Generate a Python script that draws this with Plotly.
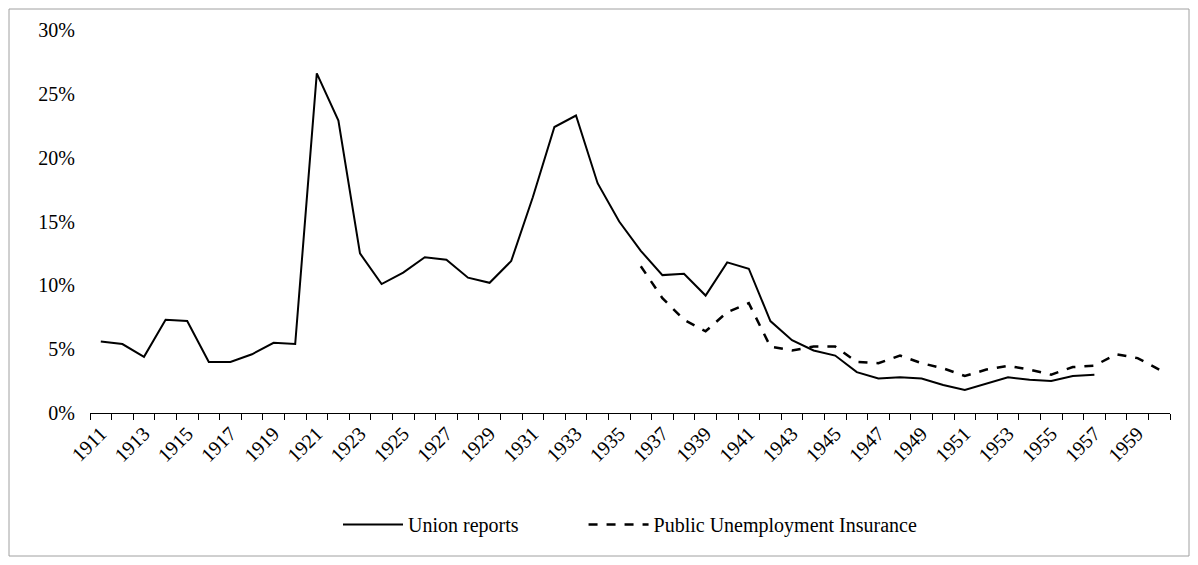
import plotly.graph_objects as go

years = list(range(1911, 1961))
union_years = list(range(1911, 1958))
union = [5.6, 5.4, 4.4, 7.3, 7.2, 4.0, 4.0, 4.6, 5.5, 5.4,
         26.6, 22.9, 12.5, 10.1, 11.0, 12.2, 12.0, 10.6, 10.2, 11.9,
         16.9, 22.4, 23.3, 18.0, 15.0, 12.7, 10.8, 10.9, 9.2, 11.8,
         11.3, 7.2, 5.7, 4.9, 4.5, 3.2, 2.7, 2.8, 2.7, 2.2,
         1.8, 2.3, 2.8, 2.6, 2.5, 2.9, 3.0]
ins_years = list(range(1936, 1961))
insurance = [11.5, 9.0, 7.3, 6.4, 7.9, 8.6, 5.2, 4.9, 5.2, 5.2,
             4.0, 3.9, 4.5, 3.9, 3.5, 2.9, 3.4, 3.7, 3.4, 3.0,
             3.6, 3.7, 4.6, 4.3, 3.4]

W, H = 1182, 549
L, R, T, B = 82, 20, 22, 144
pw = W - L - R
ph = H - T - B

fig = go.Figure()
fig.add_trace(go.Scatter(x=union_years, y=[v / 100 for v in union], mode="lines",
                         name="Union reports" + "\u00a0" * 12,
                         line={"color": "black", "width": 2}))
fig.add_trace(go.Scatter(x=ins_years, y=[v / 100 for v in insurance], mode="lines",
                         name="Public Unemployment Insurance",
                         line={"color": "black", "width": 2.5, "dash": "dash"}))

fig.update_layout(
    width=W, height=H,
    paper_bgcolor="white", plot_bgcolor="white",
    font={"family": "Liberation Serif", "size": 20, "color": "black"},
    margin={"l": L, "r": R, "t": T, "b": B, "autoexpand": False},
    legend={"orientation": "h", "x": 0.5, "xanchor": "center", "y": -0.24,
            "yanchor": "top", "font": {"size": 20}, "itemwidth": 60},
    xaxis={
        "range": [1910.5, 1960.5], "automargin": False,
        "tickvals": list(range(1911, 1961, 2)),
        "ticktext": [str(y) for y in range(1911, 1961, 2)],
        "tickangle": -45, "ticks": "", "showgrid": False,
        "showline": True, "linecolor": "black", "linewidth": 1,
        "minor": {"tickvals": [y + 0.5 for y in range(1910, 1961)],
                  "ticks": "outside", "ticklen": 6, "tickcolor": "black",
                  "showgrid": False},
    },
    yaxis={
        "range": [0, 0.3], "dtick": 0.05, "tickformat": ".0%", "automargin": False,
        "showgrid": False, "showline": False, "zeroline": False, "ticks": "",
        "ticklabelstandoff": 14,
    },
    shapes=[{"type": "rect", "xref": "paper", "yref": "paper",
             "x0": -(L - 1) / pw, "x1": 1 + (R - 1) / pw,
             "y0": -(B - 1) / ph, "y1": 1 + (T - 1) / ph,
             "line": {"color": "#a0a0a0", "width": 1}}],
)

fig.write_html("out.html")
